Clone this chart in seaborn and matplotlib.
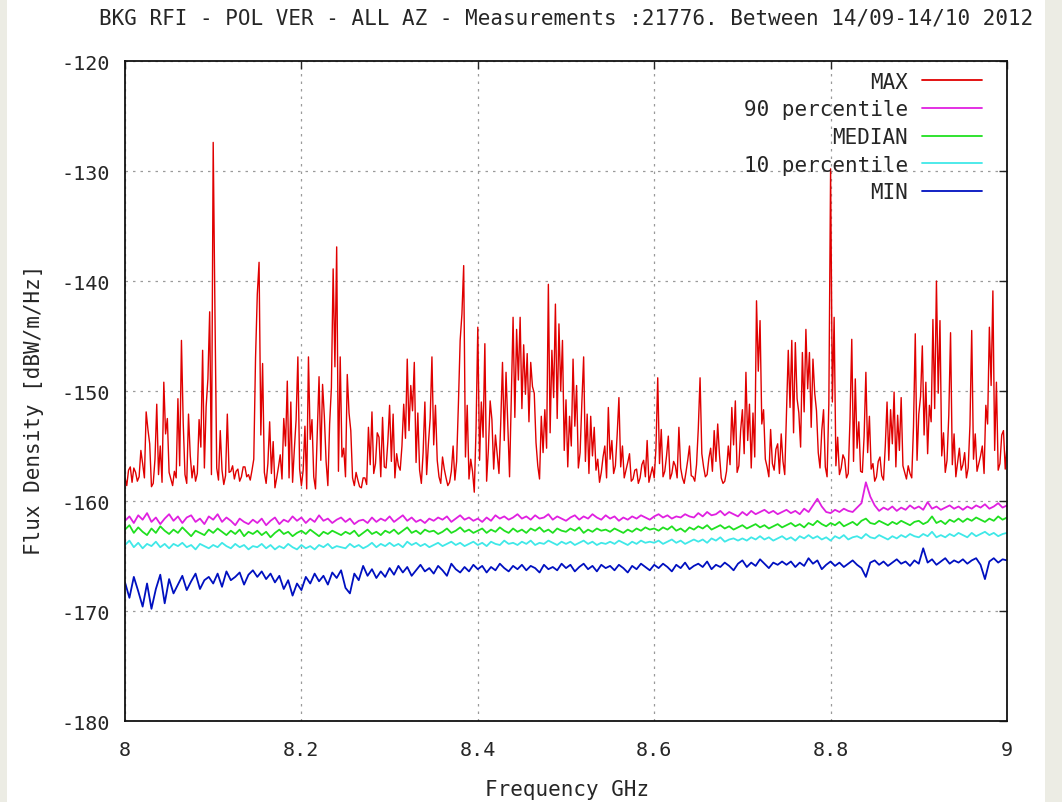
import numpy as np
import pandas as pd
import matplotlib
matplotlib.use("Agg")
import matplotlib.pyplot as plt
from matplotlib.patches import Rectangle
import seaborn as sns

# ---- spectrum data (dBW/m/Hz) -------------------------------------------
FREQ_MAX = np.linspace(8.0, 9.0, 501)   # 2 MHz bins
FREQ_PCT = np.linspace(8.0, 9.0, 201)   # 5 MHz bins

MAX_VALUES = [
    -157.9, -158.6, -157.2, -156.9, -158.3, -157.0, -157.4, -158.2, -157.8, -155.4,
    -156.6, -157.9, -151.9, -153.5, -154.8, -158.7, -158.4, -156.2, -151.2, -157.6,
    -155.0, -158.3, -149.2, -153.9, -152.5, -157.4, -158.0, -158.6, -157.3, -157.9,
    -150.7, -156.8, -145.4, -152.9, -157.6, -158.4, -152.1, -155.9, -157.9, -156.8,
    -158.2, -157.5, -152.6, -155.1, -146.3, -157.0, -151.4, -148.9, -142.8, -157.6,
    -127.4, -143.0, -157.0, -158.1, -153.6, -157.2, -158.5, -157.7, -152.1, -157.4,
    -157.3, -156.8, -158.0, -157.3, -157.1, -158.2, -157.8, -156.9, -156.9, -157.8,
    -157.6, -158.1, -157.2, -156.2, -147.0, -141.2, -138.3, -154.0, -147.5, -157.4,
    -158.4, -156.6, -152.8, -157.5, -154.6, -158.8, -157.9, -156.9, -155.8, -158.0,
    -152.5, -155.0, -149.1, -157.9, -151.0, -158.3, -155.3, -152.6, -146.9, -157.1,
    -158.6, -157.2, -153.2, -158.9, -146.9, -154.4, -152.6, -157.8, -158.9, -153.8,
    -148.7, -156.3, -149.4, -152.3, -156.4, -158.6, -153.0, -149.7, -138.9, -147.8,
    -136.9, -157.3, -146.9, -156.0, -155.2, -157.8, -148.5, -152.0, -153.6, -157.9,
    -158.6, -157.4, -158.1, -158.7, -158.8, -157.9, -157.9, -158.5, -153.3, -156.7,
    -151.9, -157.5, -156.6, -153.8, -154.2, -157.8, -152.4, -156.9, -157.0, -154.6,
    -151.3, -156.4, -152.1, -157.9, -155.7, -156.8, -157.2, -155.0, -151.2, -154.3,
    -147.1, -153.6, -149.5, -151.8, -147.4, -156.5, -152.0, -157.2, -158.4, -155.6,
    -151.0, -157.6, -154.8, -152.5, -146.9, -154.9, -151.3, -156.3, -157.8, -158.4,
    -156.0, -157.1, -157.9, -158.6, -158.3, -157.3, -155.0, -158.1, -156.4, -151.2,
    -145.4, -143.0, -138.6, -156.0, -151.3, -158.0, -156.2, -157.3, -159.2, -153.5,
    -144.2, -156.3, -151.0, -154.2, -145.7, -158.2, -155.3, -150.9, -152.6, -157.1,
    -154.0, -155.8, -157.5, -152.9, -147.4, -154.5, -148.3, -153.0, -157.8, -150.4,
    -143.3, -152.4, -144.4, -149.0, -143.3, -151.6, -145.8, -150.3, -146.6, -152.8,
    -147.4, -149.6, -150.2, -154.7, -156.8, -158.0, -152.3, -155.6, -151.7, -155.2,
    -140.3, -153.8, -146.3, -150.6, -142.1, -152.5, -143.9, -150.0, -145.4, -155.4,
    -150.8, -156.9, -152.3, -155.0, -147.1, -153.2, -149.5, -157.0, -155.6, -151.0,
    -146.9, -156.4, -152.1, -157.5, -152.3, -155.9, -153.3, -157.2, -156.2, -158.3,
    -157.4, -156.0, -155.0, -157.9, -151.5, -156.2, -154.5, -157.5, -156.8, -154.0,
    -150.6, -156.9, -155.0, -157.9, -157.2, -156.5, -155.7, -158.2, -158.0, -157.2,
    -157.1, -158.4, -157.9, -156.7, -156.3, -157.8, -154.5, -158.3, -157.6, -156.9,
    -157.9, -155.2, -148.8, -156.6, -153.5, -157.8, -157.3, -155.9, -154.1, -158.0,
    -157.5, -156.4, -156.8, -157.9, -153.3, -157.0, -157.9, -158.4, -157.4, -156.3,
    -155.0, -157.7, -157.8, -158.2, -156.7, -153.4, -148.8, -155.7, -156.9, -157.8,
    -157.6, -156.1, -155.2, -157.3, -153.6, -156.4, -153.0, -155.8, -157.9, -158.4,
    -158.2, -157.3, -155.0, -156.7, -151.5, -154.9, -150.9, -157.4, -156.8, -153.6,
    -151.7, -155.7, -148.3, -154.5, -151.2, -157.0, -152.0, -156.0, -141.8, -148.2,
    -143.6, -153.0, -151.7, -156.2, -156.9, -157.8, -153.5, -156.6, -157.2, -155.3,
    -154.8, -157.5, -153.9, -156.4, -157.6, -152.0, -146.3, -151.5, -145.4, -153.8,
    -145.6, -150.7, -152.0, -155.1, -146.5, -151.9, -144.4, -149.8, -146.5, -153.3,
    -147.1, -150.2, -151.8, -155.6, -157.0, -153.6, -151.7, -156.9, -157.8, -151.2,
    -129.8, -151.0, -143.3, -156.8, -154.2, -157.6, -157.0, -155.8, -156.2, -157.9,
    -157.5, -152.6, -145.3, -156.4, -148.9, -155.2, -152.8, -157.3, -157.4, -154.1,
    -148.3, -155.6, -152.3, -157.1, -156.6, -158.2, -157.8, -156.4, -156.0, -157.7,
    -158.1, -155.0, -151.0, -156.3, -151.7, -154.8, -150.1, -156.9, -152.2, -155.4,
    -150.6, -156.8, -157.4, -158.0, -156.8, -157.5, -157.9, -153.2, -144.8, -156.3,
    -152.1, -150.5, -145.9, -154.0, -149.2, -155.7, -151.3, -152.8, -143.5, -151.6,
    -140.0, -150.2, -143.6, -155.9, -153.8, -157.4, -156.3, -152.2, -144.7, -156.7,
    -153.9, -157.8, -156.5, -155.2, -157.2, -156.7, -155.6, -157.9, -157.0, -153.1,
    -144.5, -156.2, -153.9, -157.3, -156.6, -155.9, -155.0, -157.5, -151.3, -153.0,
    -144.2, -149.5, -140.9, -155.4, -149.2, -157.2, -156.6, -154.0, -153.6, -157.1,
    -155.0,
]

P90_VALUES = [
    -161.8, -161.4, -162.0, -161.3, -161.7, -161.1, -161.9, -161.5, -162.1, -161.6,
    -161.2, -161.8, -161.4, -162.0, -161.5, -161.3, -161.9, -161.6, -162.1, -161.4,
    -161.7, -161.2, -161.9, -161.5, -161.8, -162.2, -161.6, -161.9, -162.1, -161.7,
    -162.0, -161.6, -162.2, -161.8, -161.5, -162.1, -161.7, -161.9, -161.4, -161.8,
    -161.5, -162.0, -161.6, -161.9, -161.3, -161.8, -161.6, -162.0, -161.7, -161.5,
    -161.9, -161.6, -162.1, -161.8, -161.7, -162.0, -161.5, -161.9, -161.6, -161.8,
    -161.4, -161.9, -161.6, -161.3, -161.8, -161.5, -161.9, -161.7, -162.0, -161.6,
    -161.8, -161.5, -161.7, -161.4, -161.9, -161.6, -161.3, -161.7, -161.5, -161.8,
    -161.6, -161.9, -161.5, -161.8, -161.3, -161.6, -161.4, -161.7, -161.5, -161.2,
    -161.6, -161.4, -161.7, -161.3, -161.6, -161.5, -161.2, -161.7, -161.4, -161.6,
    -161.8, -161.5, -161.3, -161.7, -161.4, -161.6, -161.2, -161.5, -161.7, -161.3,
    -161.6, -161.4, -161.8, -161.5, -161.7, -161.4, -161.6, -161.3, -161.5, -161.7,
    -161.4, -161.2, -161.5, -161.3, -161.6, -161.4, -161.5, -161.2, -161.4, -161.5,
    -161.1, -161.4, -161.0, -161.3, -161.2, -160.9, -161.3, -161.0, -161.2, -161.4,
    -161.0, -161.3, -160.9, -161.2, -161.0, -160.8, -161.1, -160.9, -161.2, -161.0,
    -160.8, -161.1, -160.9, -161.2, -160.7, -161.0, -160.4, -159.8, -160.5, -161.0,
    -161.1, -160.8, -161.0, -160.7, -160.9, -161.0, -160.6, -160.2, -158.3, -159.6,
    -160.4, -160.9, -160.6, -160.8, -160.5, -160.9, -160.6, -160.8, -160.4, -160.7,
    -160.5, -160.8, -160.1, -160.7, -160.5, -160.8, -160.6, -160.4, -160.7, -160.5,
    -160.8, -160.5, -160.7, -160.4, -160.6, -160.3, -160.7, -160.5, -160.2, -160.6,
    -160.4,
]

MEDIAN_VALUES = [
    -162.6, -162.2, -162.9, -162.4, -162.8, -163.1, -162.5, -162.9, -162.3, -162.7,
    -163.0, -162.6, -162.9, -162.4, -162.8, -163.2, -162.7, -162.9, -163.1, -162.6,
    -162.9, -162.5, -162.8, -163.1, -162.7, -163.0, -162.6, -163.2, -162.8, -163.0,
    -162.7, -163.1, -162.8, -163.3, -162.9, -162.6, -163.0, -162.8, -163.2, -162.9,
    -162.7, -163.0, -162.6, -162.9, -163.2, -162.8, -163.0, -162.7, -162.9, -163.1,
    -162.8, -163.0, -162.7, -163.2, -162.9, -162.6, -163.0, -162.8, -163.1, -162.7,
    -162.9, -162.6, -163.0, -162.7, -162.4, -162.9, -162.7, -163.0, -162.6, -162.8,
    -162.7, -163.0, -162.8, -162.5, -162.9, -162.7, -162.4, -162.8, -162.6, -162.9,
    -162.7, -162.5, -162.9, -162.6, -162.8, -162.4, -162.7, -162.9, -162.5, -162.8,
    -162.6, -162.9, -162.5, -162.7, -162.4, -162.8, -162.6, -162.9, -162.5, -162.7,
    -162.8, -162.5, -162.7, -162.4, -162.9, -162.6, -162.8, -162.5, -162.7, -162.6,
    -162.8, -162.5, -162.7, -162.9, -162.6, -162.8, -162.5, -162.7, -162.4, -162.6,
    -162.5, -162.7, -162.4, -162.6, -162.3, -162.7, -162.5, -162.8, -162.4, -162.6,
    -162.3, -162.5, -162.2, -162.6, -162.4, -162.2, -162.5, -162.3, -162.6, -162.4,
    -162.2, -162.5, -162.3, -162.1, -162.4, -162.2, -162.5, -162.3, -162.1, -162.4,
    -162.2, -162.0, -162.3, -162.1, -162.4, -162.0, -162.2, -161.8, -162.1, -162.3,
    -162.0, -162.2, -161.9, -162.3, -162.1, -161.9, -162.2, -161.8, -161.6, -162.0,
    -162.1, -161.8, -162.0, -162.2, -161.9, -162.1, -161.8, -162.0, -162.2, -161.9,
    -161.8, -162.1, -161.9, -161.4, -162.0, -161.8, -162.1, -161.7, -161.9, -161.6,
    -161.9, -161.6, -161.8, -161.5, -161.7, -161.9, -161.6, -161.8, -161.4, -161.7,
    -161.5,
]

P10_VALUES = [
    -164.0, -163.6, -164.2, -163.8, -164.3, -163.9, -164.1, -163.7, -164.2, -163.9,
    -164.3, -163.9, -164.1, -163.8, -164.2, -164.0, -164.4, -163.9, -164.1, -164.3,
    -164.0, -164.2, -163.8, -164.1, -164.3, -163.9, -164.2, -164.0, -164.4, -164.1,
    -164.2, -163.9, -164.3, -164.0, -164.4, -164.1, -164.3, -163.9, -164.2, -164.4,
    -164.0, -164.3, -164.1, -164.4, -164.0, -164.2, -163.9, -164.3, -164.1, -164.2,
    -164.3, -163.9, -164.2, -164.0, -164.3, -164.1, -163.8, -164.2, -163.9, -164.1,
    -163.8, -164.1, -163.9, -164.2, -163.7, -164.0, -163.8, -164.1, -163.9, -164.2,
    -164.0, -163.8, -164.1, -163.9, -163.7, -164.0, -163.8, -164.1, -163.9, -163.7,
    -164.0, -163.8, -164.1, -163.7, -163.9, -164.0, -163.6, -163.9, -163.8, -164.0,
    -163.7, -163.9, -163.6, -164.0, -163.8, -163.9, -163.6, -163.8, -164.0, -163.7,
    -163.9, -163.7, -164.0, -163.8, -163.6, -163.9, -163.7, -164.0, -163.8, -163.9,
    -163.7, -163.9, -163.6, -163.8, -164.0, -163.7, -163.9, -163.6, -163.8, -163.7,
    -163.8, -163.6, -163.9, -163.7, -163.5, -163.8, -163.6, -163.9, -163.7, -163.5,
    -163.7, -163.5, -163.8, -163.4, -163.6, -163.3, -163.7, -163.5, -163.4, -163.6,
    -163.4, -163.6, -163.3, -163.5, -163.2, -163.5, -163.3, -163.6, -163.4, -163.2,
    -163.5, -163.3, -163.6, -163.2, -163.4, -163.1, -163.4, -163.2, -163.5, -163.3,
    -163.6, -163.2, -163.4, -163.1, -163.5, -163.3, -163.2, -163.4, -163.0, -163.3,
    -163.4, -163.1, -163.3, -163.5, -163.2, -163.4, -163.1, -163.3, -163.0, -163.2,
    -163.3, -163.0, -163.2, -162.8, -163.3, -163.1, -163.3, -163.0, -163.2, -162.9,
    -163.1, -163.3, -162.9, -163.2, -163.0, -162.8, -163.1, -162.9, -163.2, -163.0,
    -162.9,
]

MIN_VALUES = [
    -167.4, -168.8, -166.9, -168.2, -169.6, -167.5, -169.8, -168.0, -166.7, -169.3,
    -167.1, -168.4, -167.6, -166.8, -168.1, -167.3, -166.6, -168.0, -167.2, -166.9,
    -167.5, -166.6, -167.8, -166.4, -167.2, -166.9, -166.5, -167.6, -166.7, -166.3,
    -166.9, -166.4, -167.1, -166.6, -167.4, -166.8, -168.0, -167.2, -168.6, -167.5,
    -168.1, -166.9, -167.5, -166.6, -167.3, -166.8, -167.6, -166.5, -167.0, -166.3,
    -167.9, -168.4, -166.6, -167.2, -165.9, -166.8, -166.2, -167.0, -166.4, -166.9,
    -166.1, -166.7, -165.9, -166.5, -166.0, -166.8, -166.3, -165.8, -166.4, -166.1,
    -166.6, -165.9, -166.3, -166.8, -165.7, -166.2, -166.5, -166.0, -166.4, -165.8,
    -166.2, -165.9, -166.5, -166.0, -166.3, -165.7, -166.1, -166.4, -165.9, -166.2,
    -165.8, -166.3, -165.9, -166.1, -166.5, -165.8, -166.2, -166.0, -166.3, -165.7,
    -166.1, -165.8, -166.4, -166.0, -165.7, -166.2, -165.9, -166.4, -165.8, -166.1,
    -165.9, -166.3, -165.8, -166.1, -166.5, -165.9, -166.2, -165.7, -166.0, -166.3,
    -165.8, -166.1, -165.7, -166.0, -166.4, -165.8, -166.1, -165.6, -166.2, -165.9,
    -165.7, -166.0, -165.5, -166.2, -165.8, -166.0, -165.6, -165.9, -166.3, -165.7,
    -165.4, -166.0, -165.6, -165.9, -165.3, -165.7, -166.1, -165.6, -165.8, -165.5,
    -165.8, -165.5, -166.0, -165.6, -165.9, -165.2, -165.7, -165.4, -166.2, -165.8,
    -165.5, -165.9, -165.6, -166.0, -165.7, -165.4, -165.8, -166.1, -166.9, -165.6,
    -165.4, -165.8, -165.5, -165.9, -165.6, -165.3, -165.7, -165.5, -165.9, -165.4,
    -165.7, -164.3, -165.6, -165.3, -165.8, -165.5, -165.2, -165.7, -165.4, -165.6,
    -165.3, -165.7, -165.4, -165.2, -165.8, -167.1, -165.5, -165.2, -165.6, -165.3,
    -165.4,
]

SERIES = [
    ("MAX", FREQ_MAX, MAX_VALUES, "#e00000", 1.0),
    ("90 percentile", FREQ_PCT, P90_VALUES, "#e020e0", 1.3),
    ("MEDIAN", FREQ_PCT, MEDIAN_VALUES, "#20e020", 1.3),
    ("10 percentile", FREQ_PCT, P10_VALUES, "#40e8e8", 1.3),
    ("MIN", FREQ_PCT, MIN_VALUES, "#0010c0", 1.3),
]

X_TICKS = [8.0, 8.2, 8.4, 8.6, 8.8, 9.0]
X_TICK_LABELS = ["8", "8.2", "8.4", "8.6", "8.8", "9"]
Y_TICKS = [-180, -170, -160, -150, -140, -130, -120]

TITLE = "BKG RFI - POL VER - ALL AZ - Measurements :21776. Between 14/09-14/10 2012"

# ---- style ---------------------------------------------------------------
sns.set_style("white")
plt.rcParams["font.family"] = ["DejaVu Sans Mono", "DejaVu Sans"]
plt.rcParams["axes.unicode_minus"] = False
plt.rcParams["text.color"] = "#262626"
plt.rcParams["xtick.color"] = "#262626"
plt.rcParams["ytick.color"] = "#262626"

W, H = 1062, 803
fig = plt.figure(figsize=(W / 100, H / 100), dpi=100, facecolor="white")
ax = fig.add_axes([125 / W, 1 - 722 / H, 882 / W, 660 / H])

# pale side margins of the page
fig.patches.append(Rectangle((0, 0), 7 / W, 1, transform=fig.transFigure,
                             facecolor="#ecece4", edgecolor="none", zorder=-5))
fig.patches.append(Rectangle((1045 / W, 0), 17 / W, 1, transform=fig.transFigure,
                             facecolor="#ecece4", edgecolor="none", zorder=-5))

for name, freq, vals, color, lw in SERIES:
    df = pd.DataFrame({"Frequency": freq, "Flux": vals})
    sns.lineplot(data=df, x="Frequency", y="Flux", ax=ax, color=color,
                 linewidth=lw, label=name, estimator=None, sort=False)

ax.set_xlim(8.0, 9.0)
ax.set_ylim(-180, -120)
ax.set_xticks(X_TICKS)
ax.set_xticklabels(X_TICK_LABELS)
ax.set_yticks(Y_TICKS)
ax.set_xlabel("")
ax.set_ylabel("")

ax.grid(True, color="#9a9a9a", linestyle=(0, (2, 4)), linewidth=0.9)
ax.tick_params(direction="in", length=6, width=1.0, top=True, right=True,
               labelsize=14.5)
ax.tick_params(axis="x", pad=14)
ax.tick_params(axis="y", pad=11)
for sp in ax.spines.values():
    sp.set_color("#111111")
    sp.set_linewidth(1.3)

leg = ax.legend(loc="upper right", bbox_to_anchor=(0.9717, 0.984),
                frameon=False, markerfirst=False, fontsize=15,
                handlelength=2.9, handletextpad=0.65, labelspacing=0.37,
                borderpad=0, borderaxespad=0)
for line in leg.get_lines():
    line.set_linewidth(1.3)

fig.text(566 / W, 1 - 18 / H, TITLE, ha="center", va="center", fontsize=15)
fig.text(567 / W, 1 - 790 / H, "Frequency GHz", ha="center", va="center",
         fontsize=15)
fig.text(34 / W, 1 - 410 / H, "Flux Density [dBW/m/Hz]", ha="center",
         va="center", rotation=90, fontsize=15)

fig.savefig("out.png", dpi=100, facecolor="white")
